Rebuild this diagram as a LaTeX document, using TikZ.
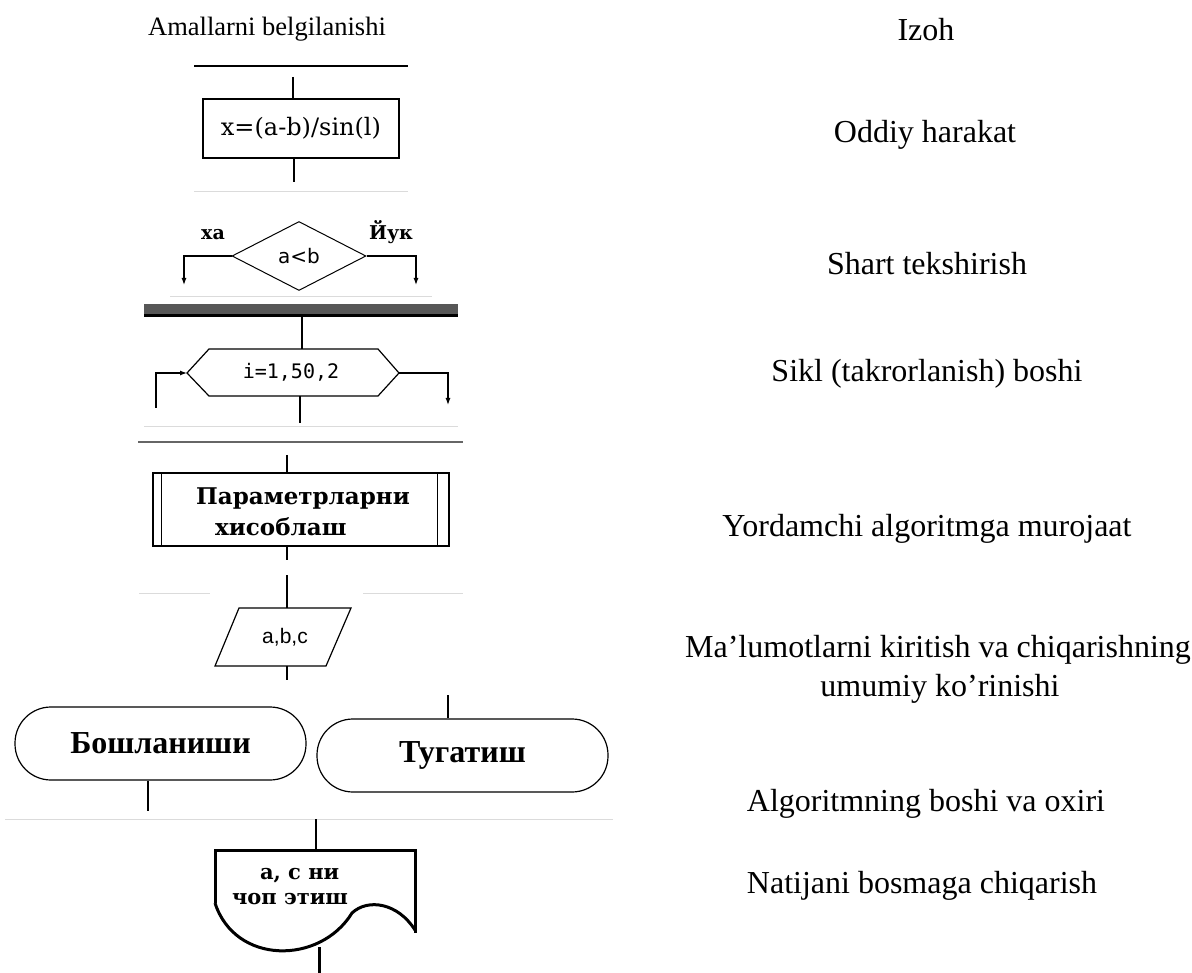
\documentclass[tikz,border=0pt]{standalone}
\usepackage{fontspec}
\setmainfont{Liberation Serif}
\newfontfamily\dvserif{DejaVu Serif}
\newfontfamily\dvsans{DejaVu Sans}
\newfontfamily\dvmono{DejaVu Sans Mono}
\newfontfamily\lbsans{Liberation Sans}
\usetikzlibrary{arrows.meta,shapes.geometric}
\newcommand{\setfs}[1]{\fontsize{#1pt}{#1pt}\selectfont}

\begin{document}
\begin{tikzpicture}[x=1pt, y=-1pt, line width=1.2pt,
  arr/.style={-{Latex[length=7pt,width=5pt]}},
  note/.style={font=\setfs{32}, anchor=base, inner sep=0},
  sepline/.style={line width=1pt, draw=black!14},
  heavy/.style={line width=3pt},
  termbox/.style={draw, rounded corners=36pt, minimum width=291pt,
    minimum height=73pt, inner sep=0, font=\bfseries\setfs{32}},
]
\useasboundingbox (0,0) rectangle (1192,973);

% ---------- column headings ----------
\node[anchor=base, inner sep=0, font=\setfs{26.5}] (h1) at (267,36) {Amallarni belgilanishi};
\node[note] (h2) at (926,40.5) {Izoh};

% ---------- process block ----------
\draw[line width=1.4pt] (194,66) -- (408,66);
\node[draw, rectangle, minimum width=196pt, minimum height=59pt, inner sep=0,
      font=\dvserif\setfs{24}] (op) at (301,128.5) {x=(a-b)/sin(l)};
\coordinate (opin) at (293,77);
\coordinate (opout) at (294,182);
\draw (opin) -- (opin |- op.north);
\draw (opout |- op.south) -- (opout);
\draw[sepline] (194,192) -- (408,192);
\node[note] (d1) at (925,143) {Oddiy harakat};

% ---------- decision ----------
\node[draw, diamond, minimum width=134pt, minimum height=69pt, inner sep=0,
      line width=1pt, font=\dvsans\setfs{20}] (cond) at (299,256) {a<b};
\coordinate (yesend) at (184,285);
\coordinate (noend) at (416,285);
\draw[arr] (cond.west) -| (yesend);
\draw[arr] (cond.east) -| (noend);
\node[anchor=base, inner sep=0, font=\dvserif\bfseries\setfs{19}] (yes) at (213,240) {ха};
\node[anchor=base, inner sep=0, font=\dvserif\bfseries\setfs{19}] (no) at (391,240) {Йук};
\draw[sepline] (170,297) -- (432,297);
\node[note] (d2) at (927,275) {Shart tekshirish};

% ---------- loop header ----------
\fill[black!66] (144,304) rectangle (458,314);
\fill[black] (144,314) rectangle (458,317);
\coordinate (hexW) at (187,373);
\coordinate (hexE) at (399,373);
\coordinate (hexN) at (302,349);
\coordinate (hexS) at (300,396);
\draw (hexW) -- (209,349) -- (378,349) -- (hexE) -- (378,396) -- (209,396) -- cycle;
\node[inner sep=0, font=\dvmono\setfs{20}] (loop) at (291,372) {i=1,50,2};
\coordinate (loopbar) at (302,317);
\coordinate (loopout) at (300,423);
\coordinate (backin) at (156,408);
\coordinate (exitend) at (448,405);
\draw (loopbar) -- (hexN);
\draw (hexS) -- (loopout);
\draw[arr] (backin) |- (hexW);
\draw[arr] (hexE) -| (exitend);
\draw[sepline] (144,427) -- (458,427);
\draw[line width=1.1pt, draw=black!60] (138,442) -- (463,442);
\node[note] (d3) at (927,382) {Sikl (takrorlanish) boshi};

% ---------- predefined process ----------
\node[draw, rectangle, minimum width=296pt, minimum height=73pt, inner sep=0] (sub) at (301,509.5) {};
\draw ([xshift=9pt]sub.north west) -- ([xshift=9pt]sub.south west);
\draw ([xshift=-12pt]sub.north east) -- ([xshift=-12pt]sub.south east);
\node[align=left, inner sep=0, font=\dvserif\bfseries\fontsize{23}{31}\selectfont]
      (subtext) at (303,512) {Параметрларни\\\hspace*{19pt}хисоблаш};
\coordinate (subin) at (287,455);
\coordinate (subout) at (287,560);
\draw (subin) -- (subin |- sub.north);
\draw (subout |- sub.south) -- (subout);
\node[note] (d4) at (927,536) {Yordamchi algoritmga murojaat};

% ---------- input / output ----------
\draw[sepline] (139,593) -- (210,593);
\draw[sepline] (363,593) -- (463,593);
\coordinate (ioin) at (287,575);
\coordinate (iotop) at (287,608);
\coordinate (iobot) at (287,666);
\coordinate (ioout) at (287,680);
\draw (215,666) -- (239,608) -- (351,608) -- (326,666) -- cycle;
\node[inner sep=0, font=\lbsans\setfs{21}] (io) at (285,637) {a,b,c};
\draw (ioin) -- (iotop);
\draw (iobot) -- (ioout);
\node[note] (d5a) at (938,657) {Ma’lumotlarni kiritish va chiqarishning};
\node[note] (d5b) at (940,696) {umumiy ko’rinishi};

% ---------- terminals ----------
\node[termbox] (start) at (160.5,743.5) {Бошланиши};
\node[termbox] (stop) at (462.5,755.5) {Тугатиш};
\coordinate (startout) at (148,811);
\coordinate (stopin) at (448,695);
\draw (startout |- start.south) -- (startout);
\draw (stopin) -- (stopin |- stop.north);
\node[note] (d6) at (926,811) {Algoritmning boshi va oxiri};

% ---------- printed document ----------
\draw[sepline] (5,819) -- (613,819);
\coordinate (docin) at (316,819);
\coordinate (docN) at (316,850);
\coordinate (docS) at (319,947);
\coordinate (docout) at (319,973);
\draw[heavy] (215,903) -- (215,850) -- (415,850) -- (415,933);
\draw[heavy] (215,903) .. controls (235,965) and (320,965) .. (352,913)
             .. controls (368,898) and (398,903) .. (415,930);
\draw (docin) -- (docN);
\draw[heavy] (docS) -- (docout);
\node[align=left, inner sep=0, font=\dvserif\bfseries\fontsize{21}{25}\selectfont]
      (doctext) at (290,887) {\hspace*{28pt}а, с ни\\чоп этиш};
\node[note] (d7) at (922,893) {Natijani bosmaga chiqarish};
\end{tikzpicture}
\end{document}
